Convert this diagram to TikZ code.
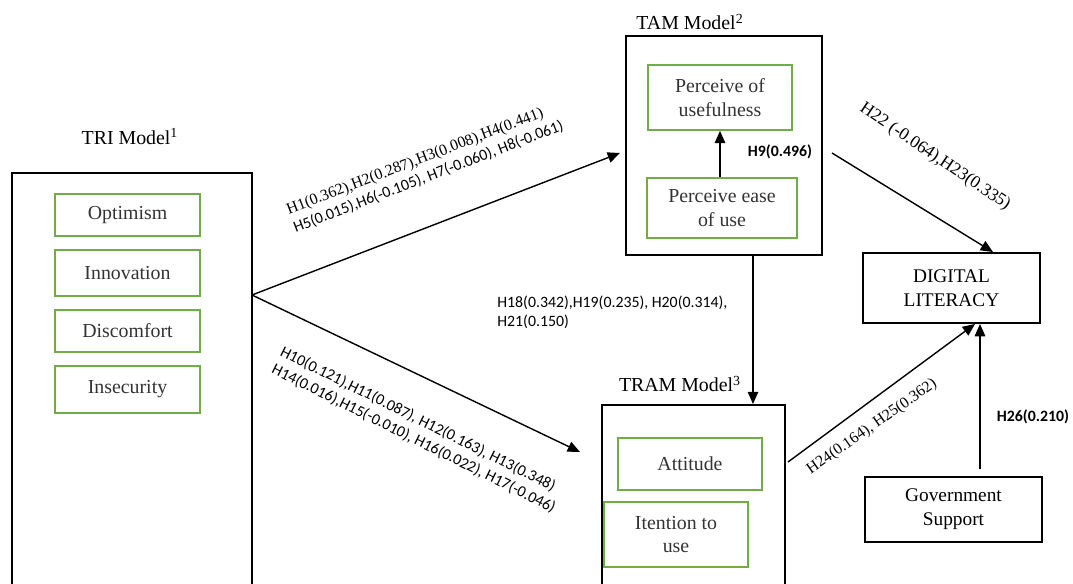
\documentclass[tikz,border=0pt]{standalone}
\usepackage{fontspec}
\setmainfont{Liberation Serif}
\newfontfamily\calib{Carlito}
\usetikzlibrary{arrows.meta}
\definecolor{boxgreen}{RGB}{112,173,71}

\begin{document}
\begin{tikzpicture}[x=0.02cm, y=-0.02cm,
    outer/.style = {draw, line width=1.1pt, inner sep=0pt},
    item/.style = {draw=boxgreen, line width=1pt, align=center, inner sep=1pt,
                   text=black!80, font=\fontsize{11.3}{13.5}\selectfont},
    title/.style = {font=\fontsize{11.3}{13.5}\selectfont},
    arr/.style = {line width=0.8pt, -{Triangle[length=7pt, width=6pt]}},
    hyp/.style = {font=\calib\fontsize{9}{11}\selectfont, align=left, inner sep=0pt},
    hypb/.style = {font=\calib\bfseries\fontsize{9}{11}\selectfont, inner sep=0pt}]
  \useasboundingbox (0, 0) rectangle (1073, 584);

  \node[outer, minimum width=4.8cm, minimum height=8.54cm] (tri) at (132, 386.5) {};
  \node[title] (trititle) at (130, 137) {TRI Model\textsuperscript{1}};
  \node[item, minimum width=2.9cm, minimum height=0.84cm] (opt) at (127.5, 215) {Optimism};
  \node[item, minimum width=2.9cm, minimum height=0.92cm] (inn) at (127.5, 273) {Innovation};
  \node[item, minimum width=2.9cm, minimum height=0.84cm] (dis) at (127.5, 331) {Discomfort};
  \node[item, minimum width=2.9cm, minimum height=0.94cm] (ins) at (127.5, 389.5) {Insecurity};

  \node[outer, minimum width=3.92cm, minimum height=4.38cm] (tam) at (724, 145.5) {};
  \node[title] (tamtitle) at (690, 22) {TAM Model\textsuperscript{2}};
  \node[item, minimum width=2.88cm, minimum height=1.3cm] (pu) at (720, 97.5) {Perceive of\\usefulness};
  \node[item, minimum width=3cm, minimum height=1.2cm] (pe) at (722, 208) {Perceive ease\\of use};

  \node[outer, minimum width=3.66cm, minimum height=3.7cm] (tram) at (693.5, 497.5) {};
  \node[title] (tramtitle) at (680, 384) {TRAM Model\textsuperscript{3}};
  \node[item, minimum width=2.88cm, minimum height=1.04cm] (att) at (690, 464) {Attitude};
  \node[item, minimum width=2.88cm, minimum height=1.3cm] (int) at (676, 534.5) {Itention to\\use};

  \node[outer, minimum width=3.54cm, minimum height=1.4cm, align=center,
        font=\fontsize{11}{13.5}\selectfont] (dl) at (951.5, 288) {DIGITAL\\LITERACY};
  \node[draw, line width=0.6pt, minimum width=3.54cm, minimum height=1.3cm, align=center,
        font=\fontsize{11}{13.5}\selectfont] (gov) at (953.5, 509.5) {Government\\Support};

  \coordinate (trout) at (252, 295);
  \coordinate (tamin) at (620, 153);
  \coordinate (tramin) at (580, 452);
  \coordinate (tamdown) at (753, 255);
  \coordinate (tamright) at (832, 153);
  \coordinate (tramright) at (788, 462);

  \draw[arr] (trout) -- (tamin);
  \draw[arr] (trout) -- (tramin);
  \draw[arr] (pe.north -| pu.south) -- (pu.south);
  \draw[arr] (tamdown) -- (tamdown |- tram.north);
  \draw[arr] (tamright) -- (993, 0 |- dl.north);
  \draw[arr] (tramright) -- (975, 0 |- dl.south);
  \draw[arr] (980, 0 |- gov.north) ++(0, -7) -- (980, 0 |- dl.south);

  \node[hyp, rotate=21] (h1) at (425, 168)
    {{\rmfamily H1(0.362),H2(0.287),H3(0.008),H4(0.441)}\\H5(0.015),H6(-0.105), H7(-0.060), H8(-0.061)};
  \node[hyp, rotate=-26.5] (h10) at (418, 430)
    {H10(0.121),H11(0.087), H12(0.163), H13(0.348)\\H14(0.016),H15(-0.010), H16(0.022), H17(-0.046)};
  \node[hyp, anchor=west] (h18) at (497, 312) {H18(0.342),H19(0.235), H20(0.314),\\H21(0.150)};
  \node[hypb] (h9) at (780, 152) {H9(0.496)};
  \node[font=\fontsize{10}{12}\selectfont, rotate=-34, inner sep=0pt] (h22) at (935, 157) {H22 (-0.064),H23(0.335)};
  \node[font=\fontsize{9}{11}\selectfont, rotate=35, inner sep=0pt] (h24) at (872, 427) {H24(0.164), H25(0.362)};
  \node[hypb] (h26) at (1033, 417) {H26(0.210)};
\end{tikzpicture}
\end{document}
